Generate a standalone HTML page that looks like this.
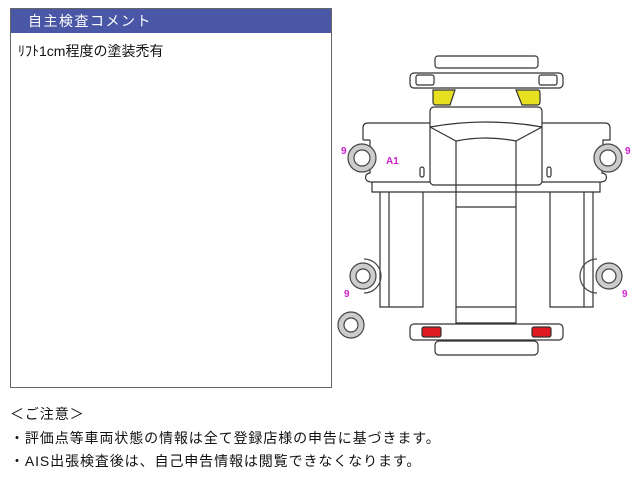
<!DOCTYPE html>
<html><head><meta charset="utf-8"><style>
body{margin:0;width:640px;height:480px;background:#fff;font-family:"Liberation Sans","Noto Sans CJK JP",sans-serif;position:relative;overflow:hidden}
#box{position:absolute;left:10px;top:8px;width:320px;height:378px;border:1px solid #666;}
#hd{height:24px;background:#4a56a6;color:#fff;font-size:14px;line-height:24px;padding-left:17px;letter-spacing:1.5px}
#ct{font-size:14px;padding:8px 0 0 7px;color:#111}
.n{position:absolute;left:10px;font-size:14px;color:#111;letter-spacing:0.9px}
</style></head><body>
<div id="box"><div id="hd">自主検査コメント</div><div id="ct">ﾘﾌﾄ1cm程度の塗装禿有</div></div>
<div class="n" style="top:404px">＜ご注意＞</div>
<div class="n" style="top:428px">・評価点等車両状態の情報は全て登録店様の申告に基づきます。</div>
<div class="n" style="top:451px">・AIS出張検査後は、自己申告情報は閲覧できなくなります。</div>
<svg width="640" height="480" style="position:absolute;left:0;top:0" fill="none" stroke="#333" stroke-width="1.2">
<rect x="435" y="56" width="103" height="12" rx="3" fill="#fff"/>
<rect x="410" y="73" width="153" height="15" rx="4" fill="#fff"/>
<rect x="416" y="75" width="18" height="10" rx="2"/>
<rect x="539" y="75" width="18" height="10" rx="2"/>
<path d="M433 90H455L450 105H436Q433 105 433 102Z" fill="#e6e020"/>
<path d="M516 90H538Q540 90 540 93V102Q540 105 537 105H522Z" fill="#e6e020"/>
<path d="M372 182V192H600V182" fill="#fff"/>
<path d="M363 140V128Q363 123 368 123H605Q610 123 610 128V140H603V148M370 140V148M370 168V173Q368 173 366 175 Q364 182 372 182H600Q608 182 606 175Q604 173 602 173V168M363 140H370M603 140H610" fill="#fff"/>
<rect x="430" y="107" width="112" height="78" rx="4" fill="#fff"/>
<path d="M430 127Q486 117 542 127M430 127L456 141Q486 135 516 141L542 127"/>
<path d="M456 141V323H516V141M456 207H516M456 307H516"/>
<rect x="420" y="167" width="4" height="10" rx="2"/>
<rect x="547" y="167" width="4" height="10" rx="2"/>
<path d="M380 192V307H423V192M389 192V307M550 192V307H593V192M584 192V307"/>
<rect x="410" y="324" width="153" height="16" rx="4" fill="#fff"/>
<rect x="422" y="327" width="19" height="10" rx="2" fill="#e01a22"/>
<rect x="532" y="327" width="19" height="10" rx="2" fill="#e01a22"/>
<rect x="435" y="341" width="103" height="14" rx="4" fill="#fff"/>
<g fill="#ccc" stroke="#444">
<circle cx="362" cy="158" r="14"/><circle cx="608" cy="158" r="14"/>
<circle cx="363" cy="276" r="13"/><circle cx="609" cy="276" r="13"/>
<circle cx="351" cy="325" r="13"/>
</g>
<g fill="#fff" stroke="#444">
<circle cx="362" cy="158" r="8"/><circle cx="608" cy="158" r="8"/>
<circle cx="363" cy="276" r="7"/><circle cx="609" cy="276" r="7"/>
<circle cx="351" cy="325" r="7"/>
</g>
<path d="M364 259A17 17 0 0 1 364 293M597 259A17 17 0 0 0 597 293" stroke="#444"/>
<g fill="#d020d0" stroke="none" font-size="10" font-weight="bold" font-family="Liberation Sans,sans-serif">
<text x="341" y="154">9</text><text x="625" y="154">9</text>
<text x="344" y="297">9</text><text x="622" y="297">9</text>
<text x="386" y="164">A1</text>
</g>
</svg>
</body></html>
